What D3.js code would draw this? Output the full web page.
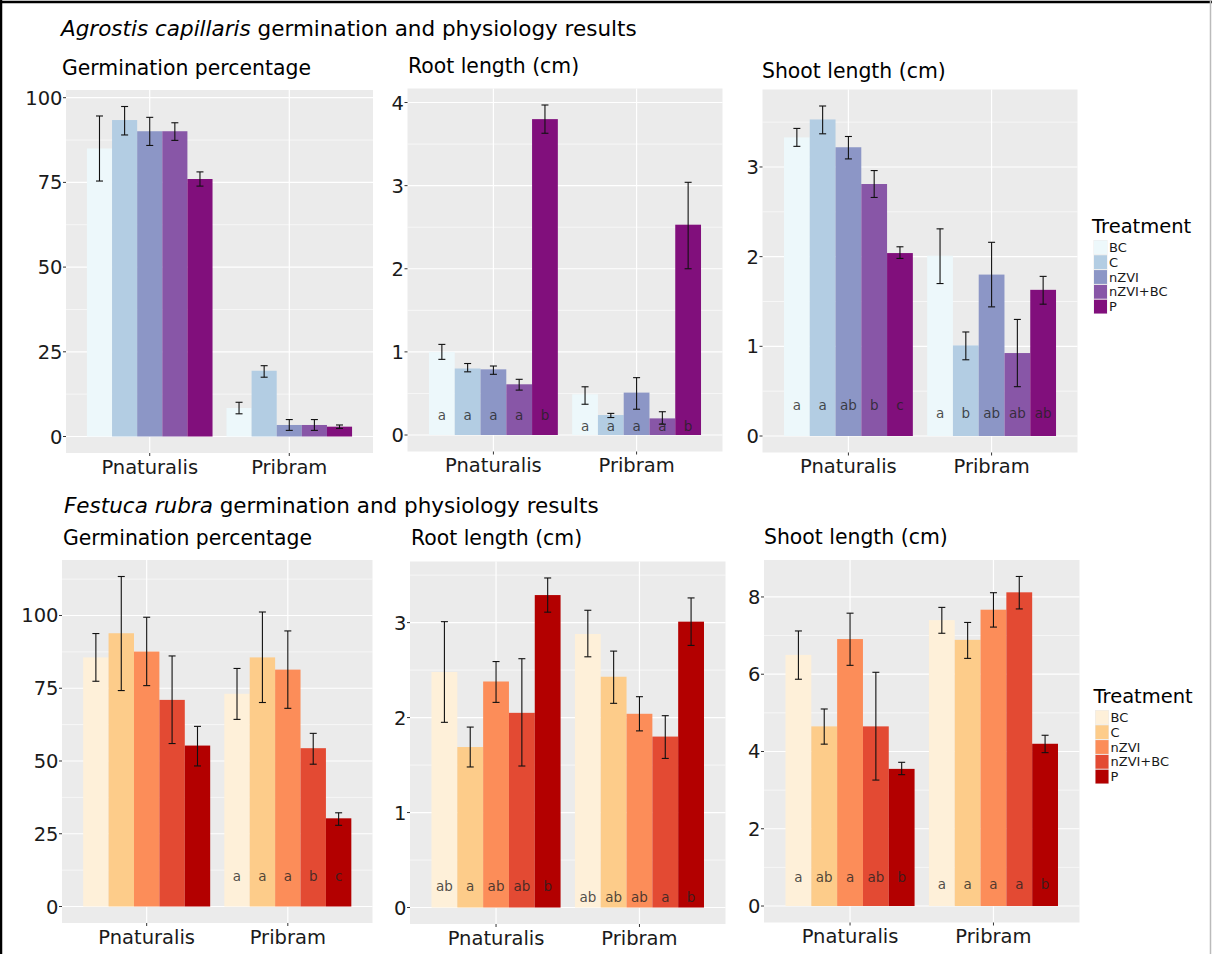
<!DOCTYPE html>
<html>
<head>
<meta charset="utf-8">
<script src="https://cdn.jsdelivr.net/npm/d3@7"></script>
<style>
  body { margin: 0; background: #fff; }
  svg { display: block; font-family: 'DejaVu Sans', sans-serif; }
</style>
</head>
<body>
<div id="chart"></div>
<script>
// categories
const sites = ['Pnaturalis', 'Pribram'];
const treatments = ['BC', 'C', 'nZVI', 'nZVI+BC', 'P'];
const agColors = ['#edf8fb', '#b3cde3', '#8c96c6', '#8856a7', '#810f7c'];
const frColors = ['#fef0d9', '#fdcc8a', '#fc8d59', '#e34a33', '#b30000'];

// Agrostis capillaris - germination %
const agGermMean = [[85.0, 93.4, 90.1, 90.1, 76.0], [8.4, 19.4, 3.4, 3.4, 2.9]];
const agGermLow  = [[75.4, 89.0, 85.9, 87.4, 73.9], [6.7, 17.5, 1.8, 1.8, 2.4]];
const agGermHigh = [[94.6, 97.4, 94.2, 92.6, 78.1], [10.1, 20.9, 5.0, 5.0, 3.4]];
const agGermTicks = [0, 25, 50, 75, 100];

// Agrostis capillaris - root length
const agRootMean = [[1.00, 0.80, 0.79, 0.61, 3.80], [0.49, 0.24, 0.51, 0.20, 2.53]];
const agRootLow  = [[0.91, 0.76, 0.73, 0.54, 3.63], [0.37, 0.21, 0.31, 0.13, 2.00]];
const agRootHigh = [[1.09, 0.86, 0.83, 0.67, 3.97], [0.58, 0.26, 0.69, 0.28, 3.04]];
const agRootLetters = [['a', 'a', 'a', 'a', 'b'], ['a', 'a', 'a', 'a', 'b']];
const agRootLetterY = [0.24, 0.10];
const agRootTicks = [0, 1, 2, 3, 4];

// Agrostis capillaris - shoot length
const agShootMean = [[3.33, 3.53, 3.22, 2.81, 2.04], [2.01, 1.01, 1.80, 0.925, 1.63]];
const agShootLow  = [[3.23, 3.37, 3.09, 2.66, 1.98], [1.70, 0.85, 1.44, 0.55, 1.47]];
const agShootHigh = [[3.43, 3.68, 3.34, 2.96, 2.11], [2.31, 1.16, 2.16, 1.30, 1.78]];
const agShootLetters = [['a', 'a', 'ab', 'b', 'c'], ['a', 'b', 'ab', 'ab', 'ab']];
const agShootLetterY = [0.34, 0.25];
const agShootTicks = [0, 1, 2, 3];

// Festuca rubra - germination %
const frGermMean = [[85.6, 93.9, 87.6, 71.0, 55.3], [73.1, 85.6, 81.4, 54.4, 30.3]];
const frGermLow  = [[77.4, 74.2, 75.9, 56.0, 48.3], [64.3, 70.1, 68.1, 48.9, 27.9]];
const frGermHigh = [[93.8, 113.4, 99.4, 86.1, 61.9], [81.8, 101.2, 94.7, 59.5, 32.2]];
const frGermLetters = [['', '', '', '', ''], ['a', 'a', 'a', 'b', 'c']];
const frGermLetterY = [10.4, 10.4];
const frGermTicks = [0, 25, 50, 75, 100];

// Festuca rubra - root length
const frRootMean = [[2.48, 1.69, 2.38, 2.05, 3.29], [2.88, 2.43, 2.04, 1.80, 3.01]];
const frRootLow  = [[1.95, 1.48, 2.16, 1.49, 3.11], [2.64, 2.15, 1.86, 1.57, 2.76]];
const frRootHigh = [[3.01, 1.90, 2.59, 2.62, 3.47], [3.13, 2.70, 2.22, 2.02, 3.26]];
const frRootLetters = [['ab', 'a', 'ab', 'ab', 'b'], ['ab', 'ab', 'ab', 'a', 'b']];
const frRootLetterY = [0.22, 0.105];
const frRootTicks = [0, 1, 2, 3];

// Festuca rubra - shoot length
const frShootMean = [[6.50, 4.65, 6.91, 4.65, 3.55], [7.40, 6.89, 7.67, 8.12, 4.20]];
const frShootLow  = [[5.87, 4.19, 6.23, 3.26, 3.40], [7.06, 6.41, 7.22, 7.69, 3.97]];
const frShootHigh = [[7.12, 5.10, 7.58, 6.05, 3.72], [7.73, 7.34, 8.11, 8.53, 4.42]];
const frShootLetters = [['a', 'ab', 'a', 'ab', 'b'], ['a', 'a', 'a', 'a', 'b']];
const frShootLetterY = [0.75, 0.55];
const frShootTicks = [0, 2, 4, 6, 8];

const width = 1212;
const height = 954;

const svg = d3.select('#chart')
    .append('svg')
    .attr('width', width)
    .attr('height', height);

// figure frame
svg.append('line').attr('x1', 1).attr('x2', 1).attr('y1', 0).attr('y2', height)
    .attr('stroke', '#000').attr('stroke-width', 2.5);
svg.append('line').attr('x1', 0).attr('x2', width).attr('y1', 2).attr('y2', 2)
    .attr('stroke', '#000').attr('stroke-width', 2.5);
svg.append('line').attr('x1', 1210.5).attr('x2', 1210.5).attr('y1', 0).attr('y2', height)
    .attr('stroke', '#bbb').attr('stroke-width', 1.5);

// panel layouts (pixel boxes)
const panels = [
    { title: 'Germination percentage', tx: 62, ty: 75, x0: 66, x1: 373, y0: 90, y1: 453,
      mean: agGermMean, low: agGermLow, high: agGermHigh, ticks: agGermTicks, colors: agColors },
    { title: 'Root length (cm)', tx: 408, ty: 73, x0: 407.5, x1: 722.5, y0: 88.5, y1: 451.5,
      mean: agRootMean, low: agRootLow, high: agRootHigh, ticks: agRootTicks, colors: agColors,
      letters: agRootLetters, letterY: agRootLetterY },
    { title: 'Shoot length (cm)', tx: 762, ty: 78, x0: 762.5, x1: 1077.5, y0: 89.5, y1: 452.5,
      mean: agShootMean, low: agShootLow, high: agShootHigh, ticks: agShootTicks, colors: agColors,
      letters: agShootLetters, letterY: agShootLetterY },
    { title: 'Germination percentage', tx: 63, ty: 545, x0: 62, x1: 372.5, y0: 560, y1: 923,
      mean: frGermMean, low: frGermLow, high: frGermHigh, ticks: frGermTicks, colors: frColors,
      letters: frGermLetters, letterY: frGermLetterY },
    { title: 'Root length (cm)', tx: 411, ty: 545, x0: 410, x1: 725.5, y0: 561.5, y1: 924,
      mean: frRootMean, low: frRootLow, high: frRootHigh, ticks: frRootTicks, colors: frColors,
      letters: frRootLetters, letterY: frRootLetterY },
    { title: 'Shoot length (cm)', tx: 764, ty: 544, x0: 764, x1: 1079.5, y0: 560, y1: 922.5,
      mean: frShootMean, low: frShootLow, high: frShootHigh, ticks: frShootTicks, colors: frColors,
      letters: frShootLetters, letterY: frShootLetterY }
];

function drawPanel(p) {
    const g = svg.append('g');

    // ggplot-like 5% expansion of the data range
    const hiMax = d3.max(p.high.flat());
    const loMin = Math.min(0, d3.min(p.low.flat()));
    const pad = (hiMax - loMin) * 0.05;
    const y = d3.scaleLinear().domain([loMin - pad, hiMax + pad]).range([p.y1, p.y0]);

    const x = d3.scalePoint().domain(sites).range([p.x0, p.x1]).padding(0.6);
    const step = x.step();
    const xb = d3.scaleBand().domain(treatments).range([-0.45 * step, 0.45 * step]);

    g.append('rect')
        .attr('x', p.x0).attr('y', p.y0)
        .attr('width', p.x1 - p.x0).attr('height', p.y1 - p.y0)
        .attr('fill', '#ebebeb');

    // minor gridlines
    const tstep = p.ticks[1] - p.ticks[0];
    const minor = d3.range(p.ticks[0] - tstep / 2, y.domain()[1], tstep)
        .filter(v => v > y.domain()[0] && v < y.domain()[1]);
    g.selectAll('.minor').data(minor).join('line')
        .attr('x1', p.x0).attr('x2', p.x1)
        .attr('y1', d => y(d)).attr('y2', d => y(d))
        .attr('stroke', '#fff').attr('stroke-width', 0.6);

    // major gridlines
    g.selectAll('.major').data(p.ticks).join('line')
        .attr('x1', p.x0).attr('x2', p.x1)
        .attr('y1', d => y(d)).attr('y2', d => y(d))
        .attr('stroke', '#fff').attr('stroke-width', 1.2);
    g.selectAll('.vmajor').data(sites).join('line')
        .attr('x1', d => x(d)).attr('x2', d => x(d))
        .attr('y1', p.y0).attr('y2', p.y1)
        .attr('stroke', '#fff').attr('stroke-width', 1.2);

    // y axis
    g.selectAll('.ytick').data(p.ticks).join('line')
        .attr('x1', p.x0 - 3).attr('x2', p.x0)
        .attr('y1', d => y(d)).attr('y2', d => y(d))
        .attr('stroke', '#333').attr('stroke-width', 1);
    g.selectAll('.ylab').data(p.ticks).join('text')
        .attr('x', p.x0 - 3.5)
        .attr('y', d => y(d) + 7)
        .attr('text-anchor', 'end')
        .attr('font-size', 19.5)
        .attr('fill', '#1a1a1a')
        .text(d => d);

    // x axis
    g.selectAll('.xtick').data(sites).join('line')
        .attr('x1', d => x(d)).attr('x2', d => x(d))
        .attr('y1', p.y1).attr('y2', p.y1 + 3)
        .attr('stroke', '#333').attr('stroke-width', 1);
    g.selectAll('.xlab').data(sites).join('text')
        .attr('x', d => x(d))
        .attr('y', p.y1 + 20.5)
        .attr('text-anchor', 'middle')
        .attr('font-size', 19.5)
        .attr('fill', '#1a1a1a')
        .text(d => d);

    // bars
    const rows = [];
    sites.forEach((s, i) => {
        treatments.forEach((t, j) => {
            rows.push({ site: s, trt: t, j: j, mean: p.mean[i][j], low: p.low[i][j], high: p.high[i][j],
                letter: p.letters ? p.letters[i][j] : '', ly: p.letterY ? p.letterY[i] : 0 });
        });
    });

    g.selectAll('.bar').data(rows).join('rect')
        .attr('x', d => x(d.site) + xb(d.trt))
        .attr('y', d => y(d.mean))
        .attr('width', xb.bandwidth())
        .attr('height', d => y(0) - y(d.mean))
        .attr('fill', d => p.colors[d.j]);

    // error bars
    const cx = d => x(d.site) + xb(d.trt) + xb.bandwidth() / 2;
    const err = g.selectAll('.err').data(rows).join('g')
        .attr('stroke', '#111').attr('stroke-width', 1.1).attr('fill', 'none');
    err.append('line')
        .attr('x1', cx).attr('x2', cx)
        .attr('y1', d => y(d.low)).attr('y2', d => y(d.high));
    err.append('line')
        .attr('x1', d => cx(d) - 3.5).attr('x2', d => cx(d) + 3.5)
        .attr('y1', d => y(d.low)).attr('y2', d => y(d.low));
    err.append('line')
        .attr('x1', d => cx(d) - 3.5).attr('x2', d => cx(d) + 3.5)
        .attr('y1', d => y(d.high)).attr('y2', d => y(d.high));

    // significance letters
    g.selectAll('.letter').data(rows.filter(d => d.letter)).join('text')
        .attr('x', cx)
        .attr('y', d => y(d.ly) + 4.5)
        .attr('text-anchor', 'middle')
        .attr('font-size', 13.5)
        .attr('fill', '#222')
        .attr('fill-opacity', 0.8)
        .text(d => d.letter);

    // panel subtitle
    svg.append('text')
        .attr('x', p.tx).attr('y', p.ty)
        .attr('font-size', 20.4)
        .attr('fill', '#000')
        .text(p.title);
}

panels.forEach(drawPanel);

// species titles
function speciesTitle(species, xPos, yPos) {
    const t = svg.append('text')
        .attr('x', xPos).attr('y', yPos)
        .attr('font-size', 21.5)
        .attr('fill', '#000');
    t.append('tspan').attr('font-style', 'italic').text(species);
    t.append('tspan').text(' germination and physiology results');
}
speciesTitle('Agrostis capillaris', 61, 36);
speciesTitle('Festuca rubra', 64, 513);

// legends
function legend(colors, xPos, yTitle, yKeys) {
    const g = svg.append('g');
    g.append('text')
        .attr('x', xPos).attr('y', yTitle)
        .attr('font-size', 19.5)
        .attr('fill', '#000')
        .text('Treatment');
    const keyH = 14.8;
    const key = g.selectAll('.key').data(treatments).join('g')
        .attr('transform', (d, i) => `translate(${xPos + 1.5},${yKeys + i * keyH})`);
    key.append('rect')
        .attr('width', 14).attr('height', keyH)
        .attr('fill', '#ebebeb');
    key.append('rect')
        .attr('x', 0.5).attr('y', 0.5)
        .attr('width', 13).attr('height', keyH - 1)
        .attr('fill', (d, i) => colors[i]);
    key.append('text')
        .attr('x', 15.5).attr('y', keyH / 2 + 4.7)
        .attr('font-size', 13)
        .attr('fill', '#1a1a1a')
        .text(d => d);
}
legend(agColors, 1092, 232.5, 240);
legend(frColors, 1093.5, 702.5, 710);
</script>
</body>
</html>
